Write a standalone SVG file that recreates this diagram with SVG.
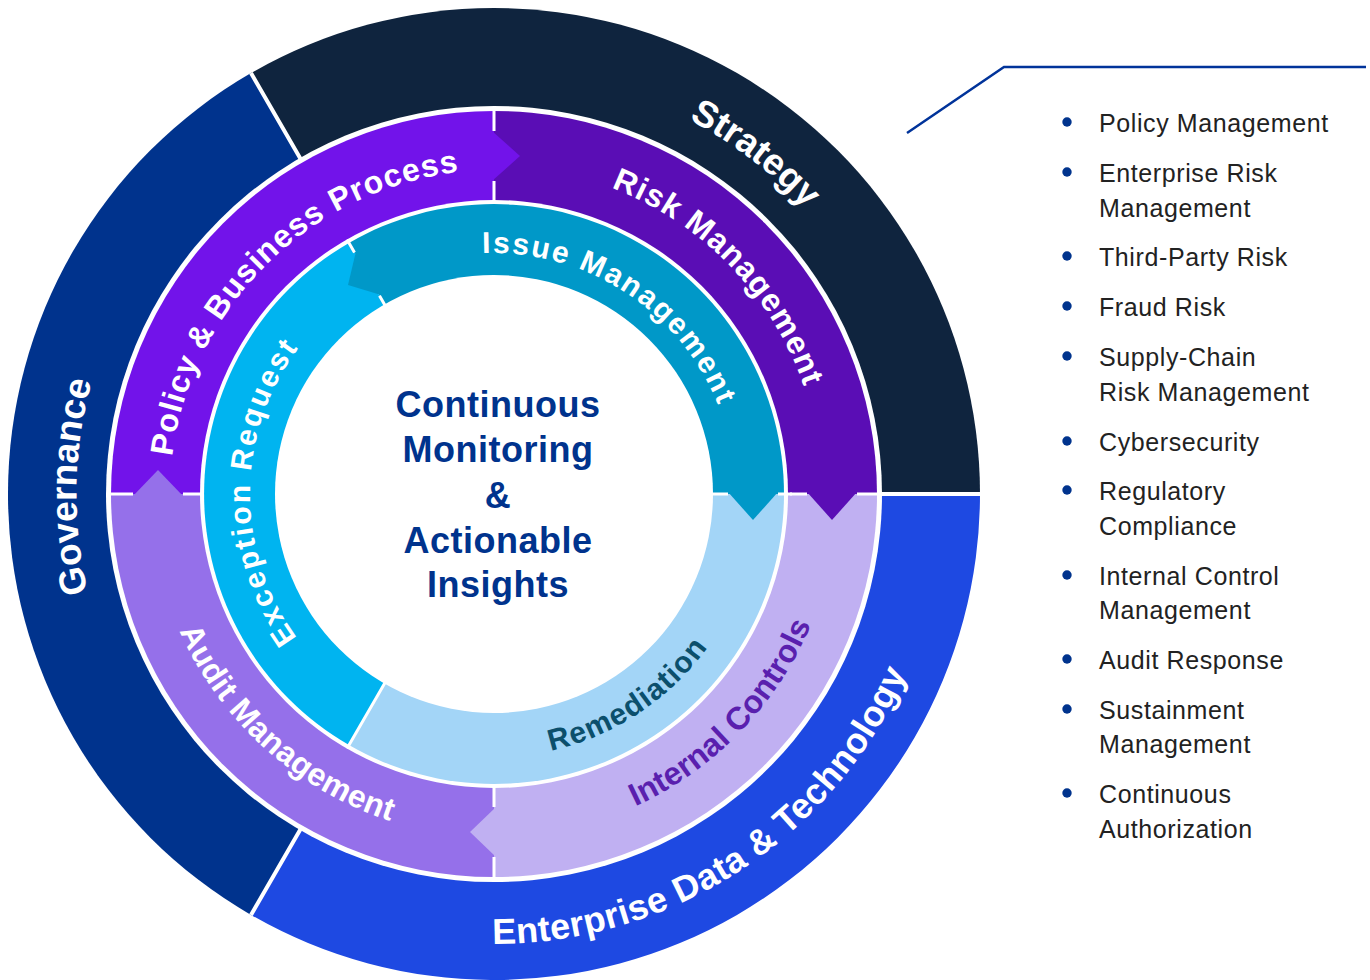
<svg xmlns="http://www.w3.org/2000/svg" width="1370" height="980" viewBox="0 0 1370 980">
<style>
.sep{stroke:#fff;stroke-width:4;fill:none}
.sep3{stroke:#fff;stroke-width:3;fill:none}
.arc{font-family:"Liberation Sans",Arial,sans-serif;font-weight:bold;fill:#fff}
.ctr{font-family:"Liberation Sans",Arial,sans-serif;font-weight:bold;fill:#00338d;font-size:36px;letter-spacing:0.5px;text-anchor:middle}
.li{font-family:"Liberation Sans",Arial,sans-serif;fill:#222;font-size:25px;letter-spacing:0.6px}
.dot{fill:#00338d}
</style>
<defs>
<path id="pStrategy" d="M159.2,237.1 A422,422 0 0 1 828.8,750.9"/>
<path id="pGov" d="M486.6,916.9 A423,423 0 0 1 501.4,71.1"/>
<path id="pEnt" d="M117.4,740.4 A450,450 0 0 0 870.6,247.6"/>
<path id="pPolicy" d="M260.9,724.7 A328,328 0 0 1 727.1,263.3"/>
<path id="pRisk" d="M266.1,258.1 A328,328 0 0 1 721.9,729.9"/>
<path id="pIC" d="M251.6,745 A349,349 0 0 0 736.4,243"/>
<path id="pAudit" d="M234.7,260.5 A349,349 0 0 0 753.3,727.5"/>
<path id="pIssue" d="M289.4,361.1 A244,244 0 0 1 698.6,626.9"/>
<path id="pRem" d="M272.2,640.8 A266,266 0 0 0 715.8,347.2"/>
<path id="pExc" d="M491.9,738 A244,244 0 0 1 496.1,250"/>
</defs>
<rect width="1370" height="980" fill="#fff"/>

<g id="outer-ring">
<path d="M494,494 L251,73.1 A486,486 0 0 1 980,494 Z" fill="#0f243e"/>
<path d="M494,494 L980,494 A486,486 0 0 1 251,914.9 Z" fill="#1e49e2"/>
<path d="M494,494 L251,914.9 A486,486 0 0 1 251,73.1 Z" fill="#00338d"/>
<path class="sep" d="M494,494 L251,73.1 M494,494 L982,494 M494,494 L251,914.9"/>
<circle cx="494" cy="494" r="388" fill="#fff"/>
</g>

<g id="middle-ring">
<path d="M494,494 L111,494 A383,383 0 0 1 494,111 Z" fill="#7213ea"/>
<path d="M494,494 L494,111 A383,383 0 0 1 877,494 Z" fill="#5a0db5"/>
<path d="M494,494 L877,494 A383,383 0 0 1 494,877 Z" fill="#c0b0f2"/>
<path d="M494,494 L494,877 A383,383 0 0 1 111,494 Z" fill="#9570ea"/>
<path class="sep3" d="M494,109 L494,131 M494,181 L494,300 M790,494 L807,494 M857,494 L879,494 M494,780 L494,807 M494,857 L494,879 M109,494 L133,494 M183,494 L210,494"/>
<polygon points="492,131 520,156 492,181" fill="#7213ea"/>
<polygon points="807,492 832,520 857,492" fill="#5a0db5"/>
<polygon points="496,807 470,832 496,857" fill="#c0b0f2"/>
<polygon points="133,496 158,470 183,496" fill="#9570ea"/>
<circle cx="494" cy="494" r="294" fill="#fff"/>
</g>

<g id="inner-ring">
<path d="M494,494 L349,242.9 A290,290 0 0 1 784,494 Z" fill="#0098c8"/>
<path d="M494,494 L784,494 A290,290 0 0 1 349,745.1 Z" fill="#a3d5f7"/>
<path d="M494,494 L349,745.1 A290,290 0 0 1 349,242.9 Z" fill="#00b4f0"/>
<path class="sep3" d="M700,494 L728,494 M778,494 L792,494 M494,494 L347,748.6 M494,494 L379.5,295.7 M354.5,252.4 L347,239.4"/>
<polygon points="728,492 753,520 778,492" fill="#0098c8"/>
<polygon points="381,295 355.9,251.6 348,285" fill="#0098c8"/>
<circle cx="494" cy="494" r="219" fill="#fff"/>
</g>

<g id="labels-outer">
<text class="arc" font-size="37"><textPath href="#pStrategy" startOffset="50%" text-anchor="middle">Strategy</textPath></text>
<text class="arc" font-size="37"><textPath href="#pGov" startOffset="50%" text-anchor="middle">Governance</textPath></text>
<text class="arc" font-size="36" letter-spacing="0.45"><textPath href="#pEnt" startOffset="50%" text-anchor="middle">Enterprise Data &amp; Technology</textPath></text>
</g>

<g id="labels-middle">
<text class="arc" font-size="32" letter-spacing="1"><textPath href="#pPolicy" startOffset="50%" text-anchor="middle">Policy &amp; Business Process</textPath></text>
<text class="arc" font-size="32" letter-spacing="1"><textPath href="#pRisk" startOffset="50%" text-anchor="middle">Risk Management</textPath></text>
<text class="arc" font-size="32" letter-spacing="0.2" style="fill:#5a1fae"><textPath href="#pIC" startOffset="50%" text-anchor="middle">Internal Controls</textPath></text>
<text class="arc" font-size="32" letter-spacing="0.4"><textPath href="#pAudit" startOffset="50%" text-anchor="middle">Audit Management</textPath></text>
</g>

<g id="labels-inner">
<text class="arc" font-size="30" letter-spacing="2"><textPath href="#pIssue" startOffset="50%" text-anchor="middle">Issue Management</textPath></text>
<text class="arc" font-size="30" letter-spacing="1.2" style="fill:#0b4f6c"><textPath href="#pRem" startOffset="50%" text-anchor="middle">Remediation</textPath></text>
<text class="arc" font-size="30" letter-spacing="2.5"><textPath href="#pExc" startOffset="50%" text-anchor="middle">Exception Request</textPath></text>
</g>

<g id="center">
<text class="ctr" x="498" y="417">Continuous</text>
<text class="ctr" x="498" y="462">Monitoring</text>
<text class="ctr" x="498" y="508">&amp;</text>
<text class="ctr" x="498" y="553">Actionable</text>
<text class="ctr" x="498" y="597">Insights</text>
</g>

<g id="connectors">
<polyline points="907,133 1004,67 1366,67" fill="none" stroke="#00339a" stroke-width="2.5"/>
</g>

<g id="list">
<circle class="dot" cx="1067" cy="122" r="4.7"/><text class="li" x="1099" y="132">Policy Management</text>
<circle class="dot" cx="1067" cy="172" r="4.7"/><text class="li" x="1099" y="182">Enterprise Risk</text><text class="li" x="1099" y="217">Management</text>
<circle class="dot" cx="1067" cy="256" r="4.7"/><text class="li" x="1099" y="266">Third-Party Risk</text>
<circle class="dot" cx="1067" cy="306" r="4.7"/><text class="li" x="1099" y="316">Fraud Risk</text>
<circle class="dot" cx="1067" cy="356" r="4.7"/><text class="li" x="1099" y="366">Supply-Chain</text><text class="li" x="1099" y="401">Risk Management</text>
<circle class="dot" cx="1067" cy="441" r="4.7"/><text class="li" x="1099" y="451">Cybersecurity</text>
<circle class="dot" cx="1067" cy="490" r="4.7"/><text class="li" x="1099" y="500">Regulatory</text><text class="li" x="1099" y="535">Compliance</text>
<circle class="dot" cx="1067" cy="575" r="4.7"/><text class="li" x="1099" y="585">Internal Control</text><text class="li" x="1099" y="619">Management</text>
<circle class="dot" cx="1067" cy="659" r="4.7"/><text class="li" x="1099" y="669">Audit Response</text>
<circle class="dot" cx="1067" cy="709" r="4.7"/><text class="li" x="1099" y="719">Sustainment</text><text class="li" x="1099" y="753">Management</text>
<circle class="dot" cx="1067" cy="793" r="4.7"/><text class="li" x="1099" y="803">Continuous</text><text class="li" x="1099" y="838">Authorization</text>
</g>
</svg>
